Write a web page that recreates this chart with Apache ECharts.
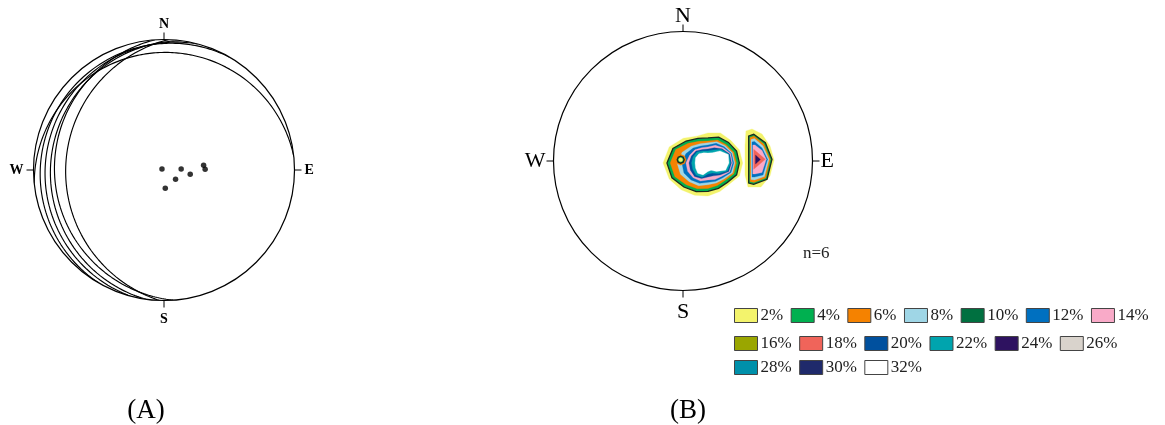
<!DOCTYPE html>
<html>
<head>
<meta charset="utf-8">
<script src="https://cdn.jsdelivr.net/npm/echarts/dist/echarts.min.js"></script>
<style>
html,body{margin:0;padding:0;background:#fff}
#chart{width:1165px;height:425px}
</style>
</head>
<body>
<div id="chart"></div>
<script>
// ---- Panel A: planes (dip direction / dip, degrees) and their poles (trend / plunge) ----
const planeDipDirections = [272, 266, 278, 285, 300, 354];
const planeDips = [16, 10, 8, 5.5, 3.5, 6];
const poleTrends = [297, 87, 99, 83, 89, 129, 176];
const polePlunges = [88, 75, 67, 56, 55, 77, 74];

// compass letters on both nets
const compassLabels = { 0: 'N', 90: 'E', 180: 'S', 270: 'W' };

// ---- Panel B: pole density contours ----
const contourLevels = ['2%','4%','6%','8%','10%','12%','14%','16%','18%','20%','22%','24%','26%','28%','30%','32%'];
const sampleSize = 'n=6';

// Main cluster: centre (x east, y north, primitive radius = 1) and
// outline radius along 16 bearings, anticlockwise from east
const mainCentre = [0.193, -0.015];
const mainRingLevels = ['2%','4%','6%','8%','12%','14%','20%','22%','32%'];
const mainRingRadii = [
  [0.268,0.263,0.247,0.251,0.232,0.224,0.270,0.324,0.347,0.324,0.293,0.270,0.255,0.239,0.232,0.263],
  [0.242,0.239,0.224,0.216,0.193,0.205,0.239,0.293,0.317,0.301,0.263,0.239,0.220,0.212,0.212,0.239],
  [0.220,0.216,0.200,0.192,0.170,0.181,0.215,0.270,0.292,0.277,0.238,0.216,0.197,0.189,0.189,0.216],
  [0.208,0.204,0.189,0.178,0.155,0.160,0.183,0.216,0.239,0.230,0.205,0.190,0.168,0.167,0.175,0.205],
  [0.199,0.196,0.177,0.164,0.138,0.142,0.162,0.185,0.201,0.201,0.185,0.170,0.150,0.153,0.161,0.192],
  [0.189,0.189,0.166,0.147,0.124,0.127,0.143,0.154,0.170,0.170,0.162,0.151,0.131,0.139,0.147,0.181],
  [0.181,0.181,0.154,0.127,0.108,0.112,0.131,0.139,0.147,0.147,0.147,0.131,0.108,0.108,0.131,0.174],
  [0.174,0.174,0.147,0.108,0.093,0.100,0.120,0.124,0.127,0.127,0.131,0.120,0.085,0.085,0.116,0.162],
  [0.162,0.170,0.131,0.085,0.077,0.085,0.100,0.104,0.100,0.104,0.112,0.100,0.066,0.062,0.093,0.147]
];

// low-density pocket inside the main cluster
const islandCentre = [-0.018, 0.010];
const islandLevels = ['6%','4%','2%'];
const islandRadii = [
  [0.042,0.042,0.042,0.042,0.042,0.042,0.042,0.042],
  [0.027,0.027,0.027,0.027,0.027,0.027,0.027,0.027],
  [0.016,0.016,0.016,0.016,0.016,0.016,0.016,0.016]
];

// eastern cluster outlines (x east, y north)
const eastRingLevels = ['2%','4%','6%','8%','12%','14%','18%','24%'];
const eastRingPoints = [
  [[0.486,0.232],[0.533,0.247],[0.610,0.208],[0.672,0.116],[0.703,0.008],[0.672,-0.116],[0.602,-0.201],[0.502,-0.201],[0.479,-0.108],[0.479,0.124]],
  [[0.507,0.193],[0.546,0.206],[0.636,0.141],[0.687,0.013],[0.649,-0.141],[0.546,-0.180],[0.507,-0.170]],
  [[0.517,0.181],[0.548,0.193],[0.625,0.131],[0.674,0.013],[0.639,-0.131],[0.548,-0.166],[0.517,-0.158]],
  [[0.525,0.166],[0.552,0.174],[0.618,0.116],[0.664,0.013],[0.629,-0.120],[0.552,-0.147],[0.525,-0.143]],
  [[0.533,0.147],[0.552,0.151],[0.610,0.100],[0.653,0.013],[0.618,-0.108],[0.552,-0.124],[0.533,-0.124]],
  [[0.539,0.124],[0.556,0.124],[0.610,0.081],[0.643,0.013],[0.610,-0.089],[0.556,-0.100],[0.539,-0.100]],
  [[0.546,0.090],[0.636,0.013],[0.546,-0.064]],
  [[0.560,0.046],[0.598,0.012],[0.560,-0.023]]
];

// fill colour for each contour level
const levelColors = {
  '2%':'#f3f36c','4%':'#00b050','6%':'#f58200','8%':'#9fd6e6',
  '10%':'#007040','12%':'#0070c0','14%':'#f9aac8','16%':'#9aa600',
  '18%':'#f0645a','20%':'#00509e','22%':'#00a4ae','24%':'#2e1260',
  '26%':'#d9d3cc','28%':'#0090aa','30%':'#1f2a6b','32%':'#ffffff'
};
const outlineLevel = '4%';

// ---- helpers ----
const rad = d => d * Math.PI / 180;
// stereographic (equal-angle) distance from centre for a line of given plunge
const stereoRadius = plunge => Math.tan(rad((90 - plunge) / 2));

function greatCircle(dd, dip) {
  const pts = [];
  for (let a = dd - 90; a <= dd + 90; a += 1) {
    const p = Math.atan(Math.tan(rad(dip)) * Math.cos(rad(a - dd))) * 180 / Math.PI;
    pts.push([stereoRadius(p), ((a % 360) + 360) % 360]);
  }
  return pts;
}

function radialOutline(centre, radii) {
  const n = radii.length;
  return radii.map((r, i) => {
    const t = 2 * Math.PI * i / n;
    return [centre[0] + r * Math.cos(t), centre[1] + r * Math.sin(t)];
  });
}

// gather polygons per level
const polysByLevel = {};
contourLevels.forEach(l => { polysByLevel[l] = []; });
mainRingLevels.forEach((l, i) => polysByLevel[l].push(radialOutline(mainCentre, mainRingRadii[i])));
eastRingLevels.forEach((l, i) => polysByLevel[l].push(eastRingPoints[i]));
const islandPolys = islandLevels.map((l, i) => ({ level: l, points: radialOutline(islandCentre, islandRadii[i]) }));

function contourSeries(name, polys, z) {
  return {
    type: 'custom', name: name, coordinateSystem: 'cartesian2d',
    xAxisIndex: 0, yAxisIndex: 0, z: z, silent: true, animation: false,
    itemStyle: { color: levelColors[name] },
    data: polys.map(p => p[0]),
    renderItem: function (params, api) {
      const poly = polys[params.dataIndex];
      const outlined = name === outlineLevel;
      return {
        type: 'polygon',
        shape: { points: poly.map(v => api.coord(v)) },
        style: {
          fill: levelColors[name],
          stroke: outlined ? '#1b2a20' : levelColors[name],
          lineWidth: outlined ? 1.3 : 0.3
        }
      };
    }
  };
}

const series = [];
// great circles (panel A)
planeDipDirections.forEach((dd, i) => {
  series.push({
    type: 'line', coordinateSystem: 'polar', polarIndex: 0,
    data: greatCircle(dd, planeDips[i]), showSymbol: false, symbol: 'none',
    lineStyle: { color: '#000', width: 1.15 }, silent: true, animation: false, z: 3
  });
});
// poles (panel A)
series.push({
  type: 'scatter', coordinateSystem: 'polar', polarIndex: 0,
  data: poleTrends.map((t, i) => [stereoRadius(polePlunges[i]), t]),
  symbol: 'circle', symbolSize: 5.5, itemStyle: { color: '#000' },
  silent: true, animation: false, z: 4
});
// density contours (panel B)
contourLevels.forEach(l => series.push(contourSeries(l, polysByLevel[l], 2)));
islandPolys.forEach(p => series.push(contourSeries(p.level, [p.points], 3)));

const serif = '"Liberation Serif", serif';

// compass letters; line heights nudge N and S slightly downward
function compassRich(size, weight, nLine, sLine) {
  const base = { fontFamily: serif, fontSize: size, fontWeight: weight, color: '#000' };
  return {
    n: Object.assign({ lineHeight: nLine }, base),
    s: Object.assign({ lineHeight: sLine }, base),
    e: Object.assign({ lineHeight: size }, base),
    w: Object.assign({ lineHeight: size }, base)
  };
}

function angleAxis(idx, size, weight, margin, nLine, sLine) {
  return {
    polarIndex: idx, type: 'value', min: 0, max: 360, interval: 90,
    startAngle: 90, clockwise: true,
    axisLine: { show: true, lineStyle: { color: '#000', width: 1.2 } },
    axisTick: { show: true, length: 7, lineStyle: { color: '#000', width: 1 } },
    axisLabel: {
      margin: margin, color: '#000', fontFamily: serif, fontSize: size, fontWeight: weight,
      formatter: v => {
        const t = compassLabels[v];
        return t ? '{' + t.toLowerCase() + '|' + t + '}' : '';
      },
      rich: compassRich(size, weight, nLine, sLine)
    },
    splitLine: { show: false }, splitArea: { show: false }
  };
}

function radiusAxis(idx) {
  return {
    polarIndex: idx, type: 'value', min: 0, max: 1, show: false,
    axisLine: { show: false }, axisTick: { show: false }, axisLabel: { show: false },
    splitLine: { show: false }, splitArea: { show: false }
  };
}

function legendRow(names, top) {
  return {
    data: names, left: 734, top: top, orient: 'horizontal', padding: 0,
    itemWidth: 23, itemHeight: 14, itemGap: 7.5, icon: 'rect', selectedMode: false,
    itemStyle: { borderColor: '#444', borderWidth: 1 },
    textStyle: { fontFamily: serif, fontSize: 17, color: '#222', padding: [0, 0, 0, -2] }
  };
}

const option = {
  backgroundColor: '#fff',
  animation: false,
  title: [
    { text: '(A)', left: 141, top: 392, textAlign: 'center',
      textStyle: { fontFamily: serif, fontSize: 27, fontWeight: 'normal', color: '#000' } },
    { text: '(B)', left: 683, top: 392, textAlign: 'center',
      textStyle: { fontFamily: serif, fontSize: 27, fontWeight: 'normal', color: '#000' } },
    { text: sampleSize, left: 798, top: 240,
      textStyle: { fontFamily: serif, fontSize: 17, fontWeight: 'normal', color: '#222' } }
  ],
  polar: [
    { center: [164, 170], radius: 130.5 },
    { center: [683, 161], radius: 129.5 }
  ],
  angleAxis: [
    angleAxis(0, 14, 'bold', 10, 10, 18),
    angleAxis(1, 22, 'normal', 8, 15, 28)
  ],
  radiusAxis: [radiusAxis(0), radiusAxis(1)],
  grid: [{ left: 553.5, top: 31.5, width: 259, height: 259, show: false }],
  xAxis: [{ gridIndex: 0, type: 'value', min: -1, max: 1, show: false }],
  yAxis: [{ gridIndex: 0, type: 'value', min: -1, max: 1, show: false }],
  legend: [
    legendRow(contourLevels.slice(0, 7), 307),
    legendRow(contourLevels.slice(7, 13), 335),
    legendRow(contourLevels.slice(13), 359)
  ],
  series: series
};

const chart = echarts.init(document.getElementById('chart'), null, { renderer: 'canvas' });
chart.setOption(option);
</script>
</body>
</html>
